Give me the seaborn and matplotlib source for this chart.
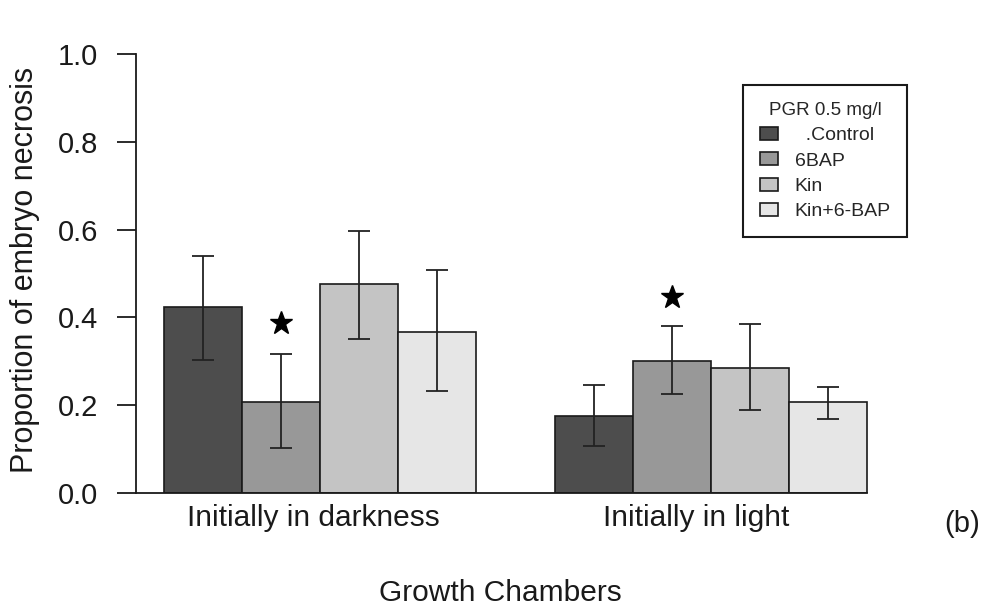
import numpy as np
import pandas as pd
import matplotlib
matplotlib.use("Agg")
import matplotlib.pyplot as plt
import seaborn as sns

# ---- data ----
chambers = ["Initially in darkness", "Initially in light"]
treatments = ["  .Control", "6BAP", "Kin", "Kin+6-BAP"]
colors = ["#4D4D4D", "#989898", "#C4C4C4", "#E6E6E6"]

mean_dark = [0.424, 0.207, 0.475, 0.366]
mean_light = [0.175, 0.301, 0.284, 0.207]
low_dark = [0.303, 0.103, 0.350, 0.233]
high_dark = [0.541, 0.316, 0.597, 0.508]
low_light = [0.107, 0.225, 0.189, 0.168]
high_light = [0.246, 0.380, 0.384, 0.242]

# significance markers above the 6BAP bars
star_treatment = "6BAP"
star_y = [0.387, 0.447]

yticks = [0.0, 0.2, 0.4, 0.6, 0.8, 1.0]
ytick_labels = ["0.0", "0.2", "0.4", "0.6", "0.8", "1.0"]

# ---- long table ----
rows = []
for c, means, lows, highs in [(chambers[0], mean_dark, low_dark, high_dark),
                              (chambers[1], mean_light, low_light, high_light)]:
    for t, m, lo, hi in zip(treatments, means, lows, highs):
        rows.append({"chamber": c, "pgr": t, "prop": m, "lo": lo, "hi": hi})
df = pd.DataFrame(rows)

sns.set_style("ticks")
plt.rcParams["font.family"] = ["Liberation Sans", "DejaVu Sans"]

W, H = 986, 607
fig = plt.figure(figsize=(W / 100, H / 100), dpi=100)
ax_left, ax_right, ax_top, ax_bot = 136, 915, 54, 493
ax = fig.add_axes([ax_left / W, 1 - ax_bot / H, (ax_right - ax_left) / W, (ax_bot - ax_top) / H])

sns.barplot(data=df, x="chamber", y="prop", hue="pgr",
            order=chambers, hue_order=treatments, palette=colors,
            width=0.8, errorbar=None, edgecolor="#1a1a1a", linewidth=1.2,
            saturation=1, ax=ax)

# error bars and stars from the bar centres
for ti, (t, cont) in enumerate(zip(treatments, ax.containers)):
    for ci, bar in enumerate(cont):
        xc = bar.get_x() + bar.get_width() / 2
        r = df[(df.chamber == chambers[ci]) & (df.pgr == t)].iloc[0]
        ax.errorbar(xc, r.prop, yerr=[[r.prop - r.lo], [r.hi - r.prop]],
                    fmt="none", ecolor="#222222", elinewidth=1.3,
                    capsize=8, capthick=1.3, zorder=5)
        if t == star_treatment:
            ax.plot(xc, star_y[ci], marker="*", ms=17, color="black",
                    mec="black", zorder=6)

unit = 391.0
x0 = -(320 - ax_left) / unit
x1 = (ax_right - 320) / unit
ax.set_xlim(x0, x1)
ax.set_ylim(0, 1.0)

for s in ["top", "right"]:
    ax.spines[s].set_visible(False)
ax.spines["left"].set_bounds(0, 1.0)
ax.spines["bottom"].set_bounds(x0, 1.4)
for s in ["left", "bottom"]:
    ax.spines[s].set_linewidth(1.3)
    ax.spines[s].set_color("#1a1a1a")

# group labels sit slightly left of the group centres
ax.set_xticks([-0.018, 0.962])
ax.set_xticklabels(chambers)
ax.set_yticks(yticks)
ax.set_yticklabels(ytick_labels)
ax.tick_params(axis="y", length=13.5, width=1.3, pad=14, labelsize=21,
               colors="#1a1a1a", direction="out")
ax.tick_params(axis="x", length=0, pad=8, labelsize=21.5, colors="#1a1a1a")

ax.set_xlabel("Growth Chambers", fontsize=21.5, color="#1a1a1a")
ax.xaxis.set_label_coords((500 - ax_left) / (ax_right - ax_left), (ax_bot - 601) / (ax_bot - ax_top))
ax.xaxis.label.set_va("baseline")
ax.set_ylabel("Proportion of embryo necrosis", fontsize=22, color="#1a1a1a")
ax.yaxis.set_label_coords((25 - ax_left) / (ax_right - ax_left), (ax_bot - 270) / (ax_bot - ax_top))
ax.yaxis.label.set_va("center")
ax.yaxis.label.set_ha("center")

leg = ax.legend(title="PGR 0.5 mg/l", loc="upper left",
                bbox_to_anchor=((743 - ax_left) / (ax_right - ax_left), (ax_bot - 85) / (ax_bot - ax_top)),
                borderaxespad=0, fontsize=14, title_fontsize=13.5,
                handlelength=0.95, handleheight=0.65, handletextpad=0.85,
                labelspacing=0.42, borderpad=0.85, fancybox=False, framealpha=1)
leg.get_frame().set_edgecolor("#1a1a1a")
leg.get_frame().set_linewidth(1.5)
for h in leg.legend_handles:
    h.set_edgecolor("#1a1a1a")
    h.set_linewidth(1.2)

fig.text(962 / W, 1 - 524 / H, "(b)", ha="center", va="center", fontsize=21, color="#1a1a1a")

fig.savefig("out.png", dpi=100)
